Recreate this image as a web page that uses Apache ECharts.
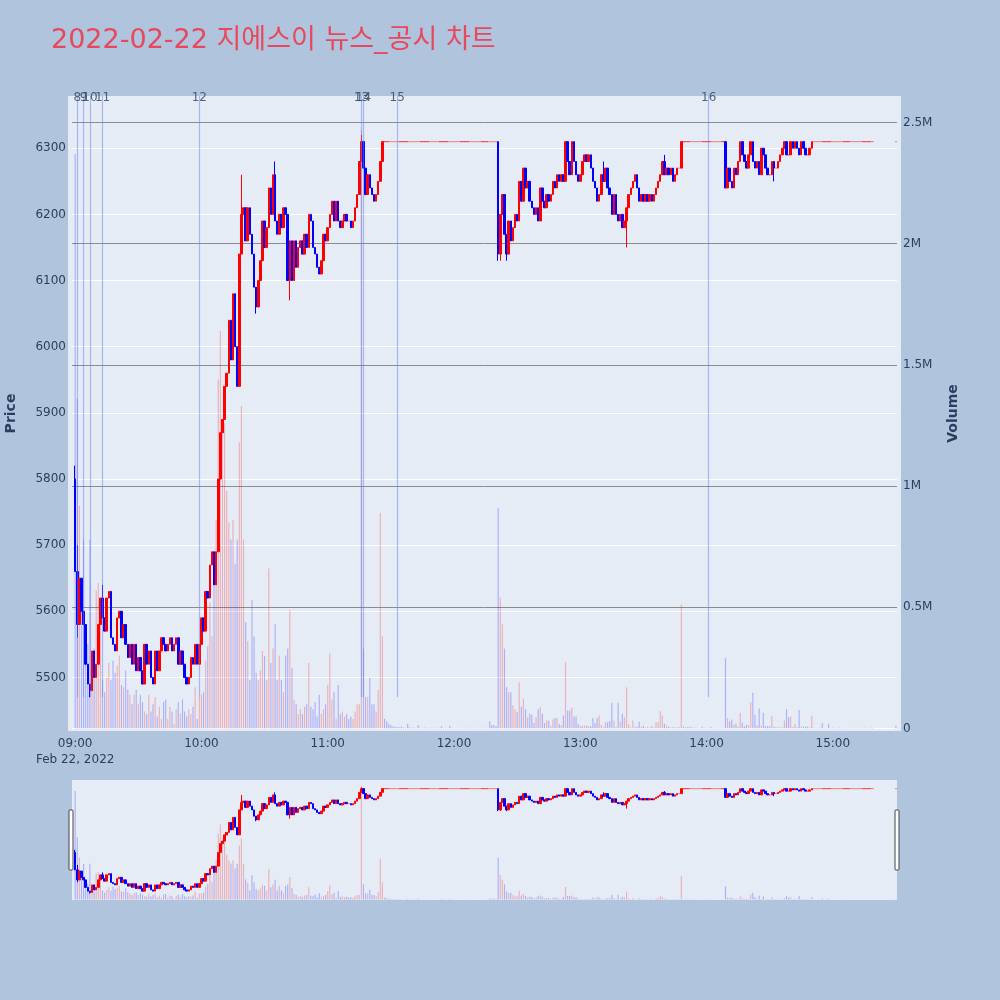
<!DOCTYPE html>
<html><head><meta charset="utf-8">
<script src="https://cdn.jsdelivr.net/npm/echarts@6/dist/echarts.min.js"></script>
<style>html,body{margin:0;padding:0;background:#b0c4de;}#c{width:1000px;height:1000px;}</style>
</head><body><div id="c"></div>
<script>
// ---- data (minute bars, index 0 = 09:00) ----
const firstOpen = 5800;
const closes = [
5660,5580,5650,5600,5580,5520,5490,5480,5540,5500,
5520,5580,5620,5590,5570,5620,5630,5560,5550,5540,
5590,5600,5560,5580,5550,5530,5550,5520,5550,5510,
5530,5510,5490,5550,5520,5540,5500,5490,5540,5510,
5540,5560,5550,5540,5550,5560,5540,5550,5560,5520,
5540,5520,5500,5490,5500,5530,5520,5550,5520,5550,
5590,5570,5630,5620,5670,5690,5640,5690,5800,5870,
5890,5940,5960,6040,5980,6080,6000,5940,6140,6200,
6210,6160,6210,6170,6140,6090,6060,6100,6130,6190,
6150,6180,6240,6200,6260,6190,6170,6200,6180,6210,
6200,6100,6160,6100,6160,6120,6150,6160,6140,6170,
6150,6200,6190,6150,6140,6120,6110,6130,6170,6160,
6180,6200,6220,6190,6220,6190,6180,6190,6200,6190,
6190,6180,6190,6210,6230,6280,6310,6270,6230,6260,
6240,6230,6220,6230,6250,6280,6310,6310,6310,6310,
6310,6310,6310,6310,6310,6310,6310,6310,6310,6310,
6310,6310,6310,6310,6310,6310,6310,6310,6310,6310,
6310,6310,6310,6310,6310,6310,6310,6310,6310,6310,
6310,6310,6310,6310,6310,6310,6310,6310,6310,6310,
6310,6310,6310,6310,6310,6310,6310,6310,6310,6310,
6310,6140,6200,6230,6170,6140,6190,6160,6180,6200,
6190,6250,6220,6270,6240,6250,6220,6210,6200,6210,
6190,6240,6220,6210,6230,6220,6230,6250,6240,6260,
6250,6260,6250,6310,6280,6260,6310,6280,6260,6250,
6260,6280,6290,6280,6290,6270,6250,6240,6220,6230,
6260,6250,6270,6240,6230,6200,6230,6200,6190,6200,
6180,6190,6210,6230,6240,6250,6260,6240,6220,6230,
6220,6230,6220,6230,6220,6230,6240,6250,6260,6280,
6260,6270,6260,6270,6250,6260,6270,6270,6310,6310,
6310,6310,6310,6310,6310,6310,6310,6310,6310,6310,
6310,6310,6310,6310,6310,6310,6310,6310,6310,6240,
6270,6250,6240,6270,6260,6280,6310,6290,6280,6270,
6290,6310,6280,6270,6280,6260,6300,6290,6270,6260,
6260,6280,6270,6270,6280,6290,6300,6310,6290,6290,
6310,6300,6310,6300,6290,6310,6300,6290,6290,6300,
6310,6310,6310,6310,6310,6310,6310,6310,6310,6310,
6310,6310,6310,6310,6310,6310,6310,6310,6310,6310,
6310,6310,6310,6310,6310,6310,6310,6310,6310,6310,
null,null,null,null,null,null,null,null,null,null,
6310
];
// volume in thousand shares
const volumesK = [
2370,1360,920,600,780,420,350,780,280,330,
570,600,520,200,150,210,270,200,280,230,
260,300,180,170,240,160,140,100,140,160,
100,140,110,70,60,140,70,100,130,50,
90,40,110,120,40,90,70,20,80,110,
60,120,70,50,80,60,90,170,40,130,
140,150,280,340,520,380,600,860,1440,1640,
1270,1260,980,850,780,860,680,780,1180,1330,
780,440,360,200,530,380,230,200,240,320,
300,200,660,270,330,430,200,300,200,150,
300,330,490,250,120,100,60,80,60,90,
100,270,90,80,110,50,140,60,80,100,
180,310,120,150,40,180,60,70,50,60,
40,50,40,70,100,100,2470,330,130,130,
210,100,100,70,160,890,380,40,30,20,
15,10,8,6,5,8,4,3,20,5,
3,4,2,15,3,2,4,3,2,3,
2,3,2,3,10,2,3,2,12,3,
2,2,3,2,2,3,2,3,2,2,
3,2,2,3,2,3,2,30,15,15,
10,910,540,430,330,170,150,150,96,80,
68,190,90,124,80,47,61,57,23,47,
80,88,61,23,33,33,10,37,44,44,
19,15,54,274,75,75,86,50,50,19,
12,12,12,12,10,10,44,22,43,54,
15,5,26,26,30,106,33,5,106,30,
61,47,170,19,5,33,8,8,28,8,
12,5,5,4,10,3,26,26,71,54,
20,12,8,5,5,5,5,5,512,8,
5,5,8,5,3,3,2,2,8,3,
2,2,8,2,2,2,2,3,2,290,
44,30,37,15,20,10,65,25,10,15,
15,110,148,57,15,83,12,65,10,10,
10,52,8,5,5,5,5,33,80,47,
50,5,20,5,77,10,8,8,8,5,
54,3,2,2,3,22,2,2,19,2,
3,2,2,3,2,2,3,2,2,3,
2,2,3,2,2,3,2,2,3,2,
null,null,null,null,null,null,null,null,null,null,
12
];
const wickHigh = [[0,5820],[1,5700],[13,5640],[79,6260],[95,6280],[136,6320],[251,6280],[280,6290]];
const wickLow  = [[1,5560],[7,5470],[86,6050],[102,6070],[201,6130],[202,6130],[205,6130],[262,6150],[332,6250]];
const newsTimes  = ['09:01','09:04','09:07','09:13','09:59','11:16','11:17','11:33','14:01'];
const newsLabels = ['8','9','10','11','12','13','14','15','16'];
const newsLineLow = 5470;
const priceRange = [5419, 6379];
const volumeRange = [-10000, 2609000];
const titleText = '2022-02-22 지에스이 뉴스_공시 차트';
const dateLabel = 'Feb 22, 2022';

// ---- build ----
const pad = n => (n < 10 ? '0' : '') + n;
const categories = [];
for (let m = 9 * 60 - 1; m <= 15 * 60 + 30; m++) categories.push(pad(Math.floor(m / 60)) + ':' + pad(m % 60));
const hiMap = Object.fromEntries(wickHigh), loMap = Object.fromEntries(wickLow);
const candleData = [], volData = [];
let prev = firstOpen;
categories.forEach((c, k) => {
  const i = k - 1;
  if (i < 0 || closes[i] == null) { candleData.push('-'); volData.push('-'); return; }
  const o = i === 0 ? firstOpen : prev, cl = closes[i];
  const hi = Math.max(o, cl, hiMap[i] || -Infinity), lo = Math.min(o, cl, loMap[i] || Infinity);
  if (o === cl && hi === lo) {
    candleData.push({ value: [o, cl, lo, hi], itemStyle: { borderWidth: 0.6, opacity: 0.85 } });
  } else {
    candleData.push([o, cl, lo, hi]);
  }
  volData.push({ value: volumesK[i] * 1000, itemStyle: { color: cl > o ? 'rgba(255,0,0,0.25)' : 'rgba(0,0,255,0.25)' } });
  prev = cl;
});

const FONT = '"DejaVu Sans", Verdana, "Noto Sans CJK KR", sans-serif';
const TXT = '#2a3f5f';
const candleStyle = { color: '#ff0000', color0: '#0000ff', borderColor: '#ff0000', borderColor0: '#0000ff', borderColorDoji: '#ff0000', borderWidth: 1 };

const chart = echarts.init(document.getElementById('c'), null, { renderer: 'canvas' });
chart.setOption({
  animation: false,
  backgroundColor: '#b0c4de',
  textStyle: { fontFamily: FONT },
  title: { text: titleText, left: 46, top: 22, textStyle: { color: '#e8485c', fontSize: 27, fontWeight: 'normal', fontFamily: '"DejaVu Sans", "Noto Sans CJK KR", sans-serif' } },
  graphic: [
    { type: 'rect', z: -10, silent: true, shape: { x: 68, y: 96, width: 833, height: 635 }, style: { fill: '#e5ecf6' } },
    { type: 'rect', z: -10, silent: true, shape: { x: 72, y: 780, width: 825, height: 120 }, style: { fill: '#e5ecf6' } },
    { type: 'rect', z: 100, silent: true, shape: { x: 69, y: 810, width: 4, height: 60, r: 1 }, style: { fill: '#fff', stroke: '#444', lineWidth: 1 } },
    { type: 'rect', z: 100, silent: true, shape: { x: 895, y: 810, width: 4, height: 60, r: 1 }, style: { fill: '#fff', stroke: '#444', lineWidth: 1 } }
  ],
  grid: [
    { left: 72, right: 103, top: 96, bottom: 269, outerBoundsMode: 'none', containLabel: false },
    { left: 72, right: 103, top: 780, height: 120, outerBoundsMode: 'none', containLabel: false }
  ],
  xAxis: [
    { type: 'category', gridIndex: 0, data: categories, boundaryGap: true,
      axisLine: { show: false }, axisTick: { show: false }, splitLine: { show: false },
      axisLabel: { color: TXT, fontSize: 12, margin: 5, lineHeight: 16, fontFamily: FONT,
        interval: (idx, val) => idx > 0 && val.slice(3) === '00',
        formatter: v => v === '09:00' ? v + '\n' + dateLabel : v } },
    { type: 'category', gridIndex: 1, data: categories, boundaryGap: true, show: false }
  ],
  yAxis: [
    { type: 'value', gridIndex: 0, position: 'left', min: priceRange[0], max: priceRange[1], minInterval: 100, maxInterval: 100,
      axisLine: { show: false }, axisTick: { show: false },
      axisLabel: { color: TXT, fontSize: 12, margin: 6, showMinLabel: false, showMaxLabel: false, fontFamily: FONT, formatter: v => String(v) },
      splitLine: { show: true, showMinLine: false, showMaxLine: false, lineStyle: { color: '#ffffff', width: 1 } },
      name: 'Price', nameLocation: 'middle', nameGap: 54, nameTextStyle: { color: TXT, fontSize: 14, fontWeight: 'bold', fontFamily: FONT } },
    { type: 'value', gridIndex: 0, position: 'right', min: volumeRange[0], max: volumeRange[1], minInterval: 500000, maxInterval: 500000,
      axisLine: { show: false }, axisTick: { show: false },
      axisLabel: { color: TXT, fontSize: 12, margin: 6, showMinLabel: false, showMaxLabel: false, fontFamily: FONT,
        formatter: v => v === 0 ? '0' : (v / 1e6) + 'M' },
      splitLine: { show: true, showMinLine: false, showMaxLine: false, lineStyle: { color: ['#ffffff', '#8c8c8c', '#8c8c8c', '#8c8c8c', '#8c8c8c', '#8c8c8c', '#8c8c8c'], width: 1 } },
      name: 'Volume', nameLocation: 'middle', nameGap: 49, nameTextStyle: { color: TXT, fontSize: 14, fontWeight: 'bold', fontFamily: FONT } },
    { type: 'value', gridIndex: 1, min: priceRange[0], max: priceRange[1], show: false },
    { type: 'value', gridIndex: 1, min: volumeRange[0], max: volumeRange[1], show: false }
  ],
  series: [
    { type: 'bar', name: 'Volume', xAxisIndex: 0, yAxisIndex: 1, data: volData, barWidth: '55%', z: 1, silent: true },
    { type: 'candlestick', name: 'Price', xAxisIndex: 0, yAxisIndex: 0, data: candleData, barWidth: 2, itemStyle: candleStyle, z: 2, silent: true },
    { type: 'scatter', name: 'News', xAxisIndex: 0, yAxisIndex: 0, symbolSize: 0, z: 5, silent: true,
      data: newsTimes.map((t, j) => [t, priceRange[1] - 1, newsLabels[j]]),
      label: { show: true, position: 'inside', offset: [0, 1], color: TXT, fontSize: 12, fontFamily: FONT, formatter: p => p.value[2] },
      markLine: { silent: true, symbol: ['none', 'none'], label: { show: false },
        lineStyle: { color: 'rgba(100,130,240,0.5)', width: 1.2, type: 'solid' },
        data: newsTimes.map(t => [{ coord: [t, newsLineLow] }, { coord: [t, priceRange[1]] }]) } },
    { type: 'bar', xAxisIndex: 1, yAxisIndex: 3, data: volData, barWidth: '55%', z: 1, silent: true },
    { type: 'candlestick', xAxisIndex: 1, yAxisIndex: 2, data: candleData, barWidth: 2, itemStyle: candleStyle, z: 2, silent: true }
  ]
});
</script></body></html>
